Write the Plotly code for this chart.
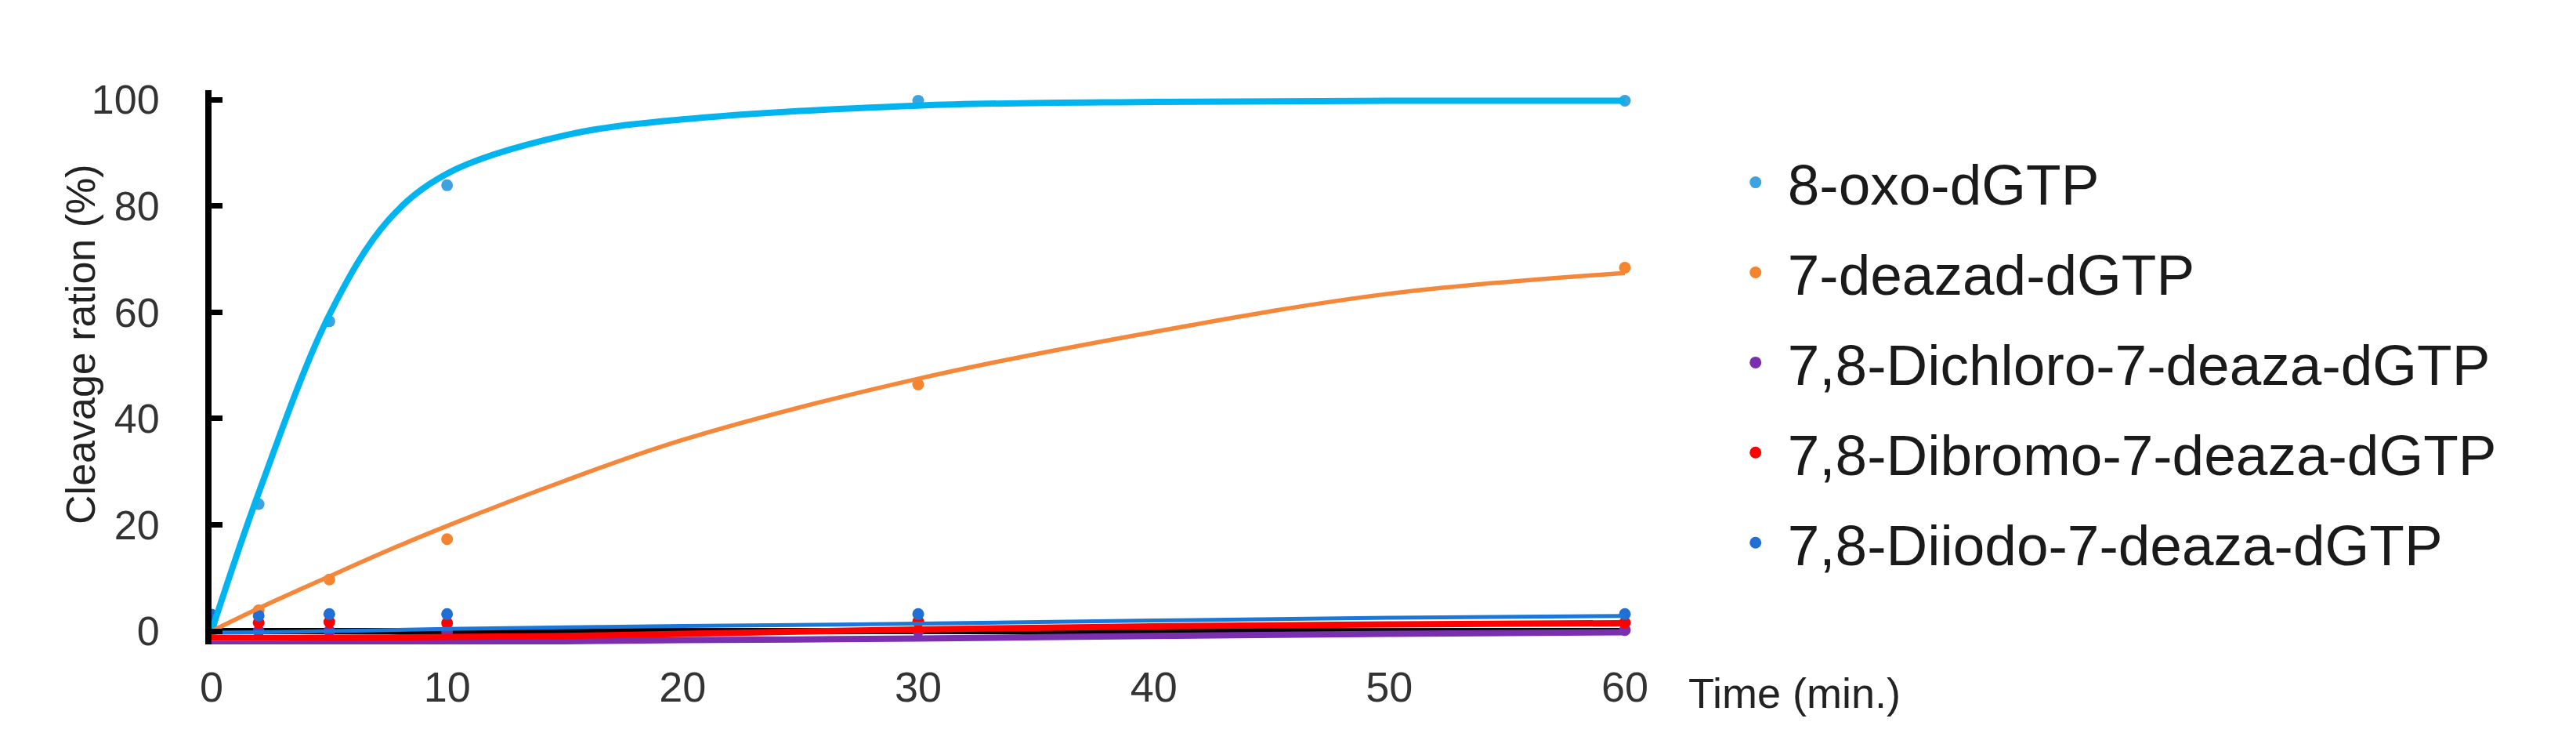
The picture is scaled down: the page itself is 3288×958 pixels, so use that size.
import plotly.graph_objects as go

# ---- data ----
time_pts = [0, 2, 5, 10, 30, 60]
oxo_pts = [0.5, 23.9, 58.3, 83.9, 99.8, 99.8]
deaza_pts = [0.0, 3.9, 9.7, 17.3, 46.4, 68.4]
dichloro_pts = [0.3, 0.0, 0.0, -0.1, 0.0, 0.2]
dibromo_pts = [1.7, 1.6, 1.7, 1.5, 1.8, 1.6]
diiodo_pts = [3.1, 2.9, 3.2, 3.2, 3.2, 3.2]

fit_time = [0, 2, 5, 7.5, 10, 15, 20, 30, 40, 50, 60]
oxo_fit = [0, 26, 59.5, 77.3, 86.1, 93.3, 96.3, 98.9, 99.6, 99.8, 99.8]
deaza_fit = [0, 4.3, 10.3, 15.2, 19.8, 28.3, 36.0, 47.5, 56.3, 63.5, 67.4]
dichloro_fit = [-2.5, -2.45, -2.35, -2.25, -2.15, -1.9, -1.7, -1.4, -0.9, -0.5, -0.2]
dibromo_fit = [-1.3, -1.3, -1.25, -1.2, -1.1, -0.9, -0.5, 0.3, 0.9, 1.25, 1.5]
diiodo_fit = [-0.3, -0.2, 0.0, 0.2, 0.4, 0.7, 0.95, 1.4, 2.0, 2.5, 2.85]

names = ["8-oxo-dGTP", "7-deazad-dGTP", "7,8-Dichloro-7-deaza-dGTP",
         "7,8-Dibromo-7-deaza-dGTP", "7,8-Diiodo-7-deaza-dGTP"]
x_ticks = [0, 10, 20, 30, 40, 50, 60]
y_ticks = [0, 20, 40, 60, 80, 100]

marker_colors = ["#3aa3e0", "#f4842f", "#7a2fae", "#ff0000", "#1f6fd6"]
line_colors = ["#00b4f0", "#f5873a", "#7a2fae", "#ff0000", "#1a78d8"]
line_widths = [8, 5.5, 8, 8, 5]

pts = [oxo_pts, deaza_pts, dichloro_pts, dibromo_pts, diiodo_pts]
fits = [oxo_fit, deaza_fit, dichloro_fit, dibromo_fit, diiodo_fit]

FONT = "Liberation Sans, Arial, sans-serif"

fig = go.Figure()
for i in range(5):
    fig.add_trace(go.Scatter(
        x=time_pts, y=pts[i], mode="markers", name=names[i],
        legendgroup=names[i],
        marker=dict(color=marker_colors[i], size=15),
        cliponaxis=False,
    ))
fit_order = [2, 0, 1, 3, 4]
for i in fit_order:
    fig.add_trace(go.Scatter(
        x=fit_time, y=fits[i], mode="lines", showlegend=False,
        legendgroup=names[i],
        line=dict(color=line_colors[i], width=line_widths[i], shape="spline", smoothing=1.0),
        cliponaxis=False,
    ))

fig.update_layout(
    width=3288, height=958,
    margin=dict(l=262, r=1222, t=107, b=144, pad=0),
    paper_bgcolor="white", plot_bgcolor="white",
    font=dict(family=FONT, color="#222222"),
    showlegend=True,
    legend=dict(
        x=1.0697, y=0.910, xanchor="left", yanchor="top",
        font=dict(family=FONT, size=73, color="#1a1a1a"),
        traceorder="grouped", tracegroupgap=17, itemwidth=72,
        bgcolor="rgba(0,0,0,0)", borderwidth=0,
    ),
    xaxis=dict(
        range=[0, 60], tickvals=x_ticks, ticktext=[str(v) for v in x_ticks],
        showgrid=False, zeroline=False, showline=False, ticks="",
        tickfont=dict(family=FONT, size=54, color="#333333"),
        ticklabelstandoff=18,
    ),
    yaxis=dict(
        range=[-2.5, 101.8], tickvals=y_ticks, ticktext=[str(v) for v in y_ticks],
        showgrid=False, showline=True, linecolor="black", linewidth=8,
        ticks="inside", ticklen=14, tickwidth=7, tickcolor="black",
        zeroline=True, zerolinecolor="black", zerolinewidth=8,
        tickfont=dict(family=FONT, size=52, color="#333333"),
        ticklabelstandoff=48,
    ),
    annotations=[
        dict(text="Cleavage ration (%)", textangle=-90, xref="paper", yref="paper",
             x=-0.0926, y=0.5417, xanchor="center", yanchor="middle", showarrow=False,
             font=dict(family=FONT, size=52, color="#222222")),
        dict(text="Time (min.)", xref="paper", yref="paper",
             x=1.0438, y=-0.088, xanchor="left", yanchor="middle", showarrow=False,
             font=dict(family=FONT, size=54, color="#222222")),
    ],
)

fig.write_html("out.html")
